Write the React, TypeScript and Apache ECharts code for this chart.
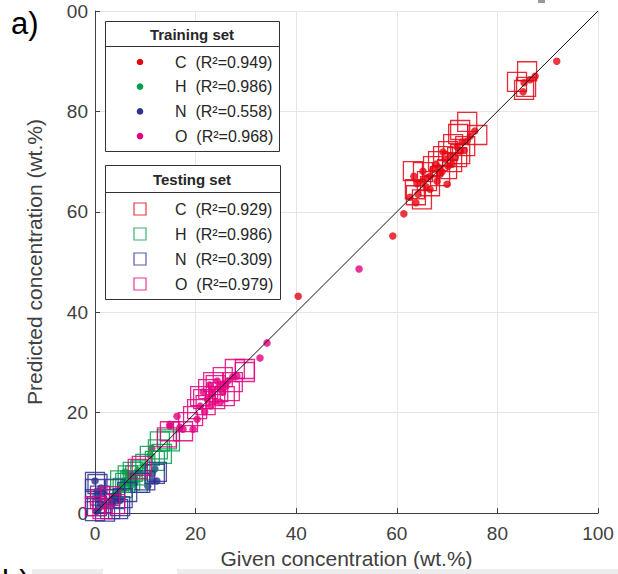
import React, { useEffect, useRef } from "react";
import * as echarts from "echarts";

const xTicks = [0, 20, 40, 60, 80, 100];
const elements = ["C", "H", "N", "O"];
const colors = ["#e30613", "#00a04b", "#2e3192", "#e4007f"];
const trainR2 = ["0.949", "0.986", "0.558", "0.968"];
const testR2 = ["0.929", "0.986", "0.309", "0.979"];

const trainC = [
  [40.4, 43.2], [59.2, 55.2], [61.4, 59.6], [62.6, 62.9], [63.4, 67.1], [64.2, 63.5], [65.2, 68.1],
  [65.2, 66.1], [66.6, 67.1], [66.6, 64.5], [67.2, 68.5], [68, 66.1], [68.6, 67.5], [69.2, 71.9],
  [69.6, 70.5], [70, 65.5], [70.2, 69.1], [70.6, 71.1], [71, 69.5], [72, 72.9], [72.6, 72.1],
  [73, 73.9], [74, 74.1], [74.6, 75.1], [75.5, 76.1], [64, 65.6], [65.8, 65], [67.8, 69.5],
  [68.4, 68.8], [69, 68], [71.6, 70.8], [73.4, 72.2], [66, 66.8], [63.8, 61.8], [85.1, 83.9],
  [85.3, 85.7], [87.5, 87], [91.8, 90.0], [86.5, 86.3],
];
const testC = [
  [74, 77.9], [76, 75.3], [72.2, 75.5], [71.2, 73.5], [73.6, 73.1], [70.2, 72.1], [69.2, 71.1],
  [71, 69.9], [72.6, 71.5], [63.2, 68.1], [65.2, 67.9], [67.2, 69.1], [63.6, 64.5], [65, 62.5],
  [66.6, 65.1], [68.6, 67.1], [70, 68.5], [72, 70.9], [68.2, 70.1], [66, 66.1], [72.6, 76.3],
  [63.8, 63.3], [85.9, 88], [83.9, 85.9], [85.3, 84.3], [85.7, 84.9],
];
const trainH = [
  [5.5, 5.8], [6, 6.5], [6.6, 7.2], [7, 6.8], [7.5, 7.8], [8, 6.2], [6, 8.2], [5, 5], [5.8, 4.8],
  [7.2, 5.5], [8.5, 8.5], [9, 8], [6.8, 7.8], [4.5, 4.2], [7.8, 7], [6.4, 6.0], [9.8, 9.4],
  [11, 11.5], [3.8, 3.5],
];
const testH = [
  [14.9, 14.3], [12.9, 14.3], [13.3, 11.8], [10.9, 11.4], [11.9, 10.4], [8, 7.5], [7, 6.5], [6, 6],
  [5.5, 5], [9, 8.5], [7.5, 8.2], [10, 9.8], [6.5, 7.5], [5, 6.5], [8.5, 6], [14.3, 14.7], [12.5, 12.7],
];
const trainN = [
  [0, 6.4], [11.9, 8.8], [10.5, 5.4], [12.3, 6.4], [11.3, 7.8], [11.5, 6.4], [0.5, 3.5], [1, 2],
  [0.8, 1], [1.5, 4], [3.5, 2], [4.5, 3.5], [5, 2.5], [2, 1.5], [1.2, 5], [0.3, 0.3], [4, 3],
  [0.4, 4.4], [0.6, 2.8], [4.6, 3.8], [4.4, 2.4],
];
const testN = [
  [0, 4.8], [0, 2.8], [0.4, 1.4], [0, 0.4], [1, 3.5], [1.5, 2], [0.5, 5.8], [4, 2.8], [5, 1.4],
  [6.4, 4.2], [12.3, 8.2], [11.9, 7.8], [10, 6.5], [3, 0.8], [5.5, 3], [2, 0.3], [9, 6],
  [4.6, 0.8], [4, 4.8], [0, 6.2],
];
const trainO = [
  [52.5, 48.6], [34.2, 33.9], [32.8, 30.9], [24.3, 26.3], [23.3, 24.7], [25.4, 25.7], [27.4, 27.1],
  [28.2, 27.3], [21.5, 24.1], [22.3, 22.7], [23.9, 22.3], [24.9, 22.1], [20.9, 21.3], [23.3, 23.7],
  [20.3, 18.7], [19.5, 16.7], [17.5, 16.7], [25.4, 24.1], [26.4, 26.3], [16.3, 19.3], [14.9, 17.3],
  [11.3, 12.9], [22.8, 25.5], [24.6, 25], [26, 25.2], [21.8, 20.2], [23, 21.4], [14.9, 17.7],
  [16.9, 17.1],
];
const testO = [
  [29.8, 28.1], [27.8, 28.7], [27.4, 26.1], [25.4, 27.1], [23.5, 26.1], [22.5, 24.7], [24.5, 24.1],
  [21.5, 22.7], [20.3, 20.7], [19.5, 19.3], [18.5, 18.1], [17.5, 16.3], [23.9, 22.7], [25.8, 23.3],
  [26.8, 24.3], [20.9, 23.3], [14.9, 16.3], [14.3, 15.1], [8.5, 8.8], [9.3, 9.4], [3, 3.4], [1, 2.8],
  [0, 1.4], [29.8, 28.7], [22, 21.5], [24, 25.5], [1.5, 0.8], [4, 1.8],
];
const diagonal = [[0, 0], [100, 100]];

const trainSets = [trainC, trainH, trainN, trainO];
const testSets = [testC, testH, testN, testO];

const FONT = '"Liberation Sans", Arial, Helvetica, sans-serif';

export default function App() {
  const ref = useRef<HTMLDivElement>(null);
  useEffect(() => {
    if (!ref.current) return;
    const chart = echarts.init(ref.current, null, { renderer: "svg" });

    const series: any[] = [];
    elements.forEach((el, i) => {
      series.push({
        name: "train " + el,
        type: "scatter",
        data: trainSets[i],
        symbol: "circle",
        symbolSize: 7.5,
        itemStyle: { color: colors[i] },
        z: 2,
      });
    });
    elements.forEach((el, i) => {
      series.push({
        name: "test " + el,
        type: "scatter",
        data: testSets[i],
        symbol: "rect",
        symbolSize: 19,
        itemStyle: { color: "rgba(0,0,0,0)", borderColor: colors[i], borderWidth: 1.3, opacity: 0.85 },
        z: 3,
      });
    });
    series.push({
      type: "line",
      data: diagonal,
      symbol: "none",
      lineStyle: { color: "#111", width: 1 },
      z: 4,
    });

    const lx = 105;
    const graphics: any[] = [];
    graphics.push({ type: "rect", shape: { x: lx + 0.5, y: 21.5, width: 174, height: 130 }, style: { fill: "#fff", stroke: "#333", lineWidth: 1 }, z: 10 });
    graphics.push({ type: "line", shape: { x1: lx, y1: 46.5, x2: lx + 174.5, y2: 46.5 }, style: { stroke: "#333", lineWidth: 1 }, z: 11 });
    graphics.push({ type: "text", x: 192, y: 34, style: { text: "Training set", fontSize: 15, fontWeight: "bold", fontFamily: FONT, fill: "#262626", align: "center", verticalAlign: "middle" }, z: 11 });
    elements.forEach((el, i) => {
      const yy = 62 + i * 24.7;
      graphics.push({ type: "circle", shape: { cx: 140, cy: yy, r: 3.3 }, style: { fill: colors[i] }, z: 11 });
      graphics.push({ type: "text", x: 175, y: yy, style: { text: el + "  (R\u00b2=" + trainR2[i] + ")", fontSize: 16, fontFamily: FONT, fill: "#262626", align: "left", verticalAlign: "middle" }, z: 11 });
    });
    graphics.push({ type: "rect", shape: { x: lx + 0.5, y: 165.5, width: 175, height: 134 }, style: { fill: "#fff", stroke: "#333", lineWidth: 1 }, z: 10 });
    graphics.push({ type: "line", shape: { x1: lx, y1: 192.5, x2: lx + 175.5, y2: 192.5 }, style: { stroke: "#333", lineWidth: 1 }, z: 11 });
    graphics.push({ type: "text", x: 192, y: 179, style: { text: "Testing set", fontSize: 15, fontWeight: "bold", fontFamily: FONT, fill: "#262626", align: "center", verticalAlign: "middle" }, z: 11 });
    elements.forEach((el, i) => {
      const yy = 209 + i * 25;
      graphics.push({ type: "rect", shape: { x: 134, y: yy - 6, width: 12, height: 12 }, style: { fill: "none", stroke: colors[i], lineWidth: 1.2, opacity: 0.8 }, z: 11 });
      graphics.push({ type: "text", x: 175, y: yy, style: { text: el + "  (R\u00b2=" + testR2[i] + ")", fontSize: 16, fontFamily: FONT, fill: "#262626", align: "left", verticalAlign: "middle" }, z: 11 });
    });
    graphics.push({ type: "rect", shape: { x: 0, y: 0, width: 66, height: 48 }, style: { fill: "#fff" }, z: 20 });
    graphics.push({ type: "text", x: 11, y: 23, style: { text: "a)", fontSize: 31, fontFamily: FONT, fill: "#000", align: "left", verticalAlign: "middle" }, z: 21 });
    graphics.push({ type: "rect", shape: { x: 538, y: 0, width: 7, height: 3 }, style: { fill: "#999" }, z: 20 });
    graphics.push({ type: "rect", shape: { x: 32, y: 569, width: 71, height: 5 }, style: { fill: "#ededed" }, z: 20 });
    graphics.push({ type: "rect", shape: { x: 177, y: 569, width: 441, height: 5 }, style: { fill: "#ededed" }, z: 20 });
    graphics.push({ type: "text", x: 2, y: 566, style: { text: "b)", fontSize: 31, fontFamily: FONT, fill: "#000", align: "left", verticalAlign: "top" }, z: 21 });

    chart.setOption({
      animation: false,
      backgroundColor: "#fff",
      grid: { left: 95, right: 20, top: 11, bottom: 60, containLabel: false },
      xAxis: {
        type: "value",
        min: xTicks[0],
        max: xTicks[xTicks.length - 1],
        interval: 20,
        name: "Given concentration (wt.%)",
        nameLocation: "middle",
        nameGap: 30,
        nameTextStyle: { fontSize: 21, fontFamily: FONT, color: "#404040" },
        axisLine: { show: true, lineStyle: { color: "#404040", width: 1 } },
        axisTick: { show: true, inside: true, length: 5, lineStyle: { color: "#404040" } },
        axisLabel: { fontSize: 19, fontFamily: FONT, color: "#404040", margin: 11 },
        splitLine: { show: true, lineStyle: { color: "#e6e6e6", width: 1 } },
      },
      yAxis: {
        type: "value",
        min: xTicks[0],
        max: xTicks[xTicks.length - 1],
        interval: 20,
        name: "Predicted concentration (wt.%)",
        nameLocation: "middle",
        nameGap: 46,
        nameTextStyle: { fontSize: 21, fontFamily: FONT, color: "#404040" },
        axisLine: { show: true, lineStyle: { color: "#404040", width: 1 } },
        axisTick: { show: true, inside: true, length: 5, lineStyle: { color: "#404040" } },
        axisLabel: { fontSize: 19, fontFamily: FONT, color: "#404040", margin: 7 },
        splitLine: { show: true, lineStyle: { color: "#e6e6e6", width: 1 } },
      },
      series,
      graphic: graphics,
    });
    return () => chart.dispose();
  }, []);
  return <div ref={ref} style={{ position: "fixed", left: 0, top: 0, width: 618, height: 574 }} />;
}
